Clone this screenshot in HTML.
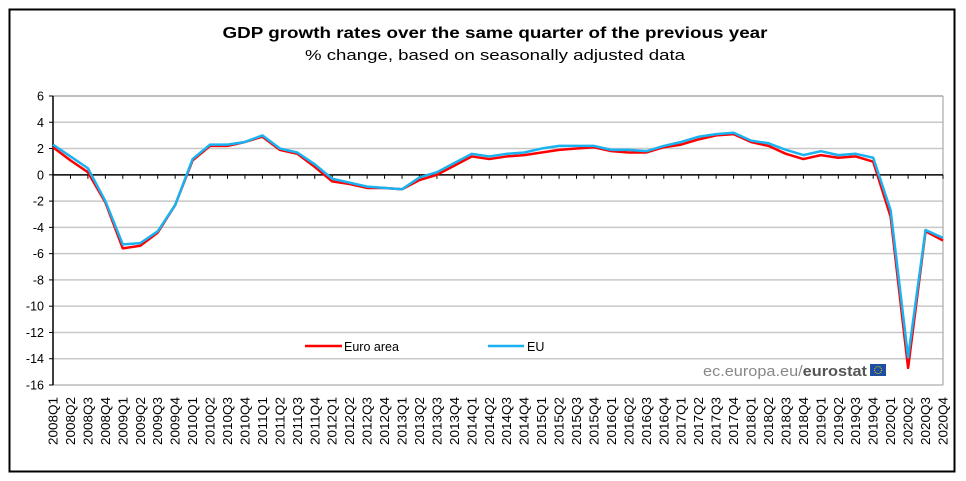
<!DOCTYPE html>
<html><head><meta charset="utf-8"><style>
html,body{margin:0;padding:0;background:#fff;}
svg{display:block;font-family:"Liberation Sans",Arial,sans-serif;}
</style></head><body>
<svg id="chart" width="966" height="481" viewBox="0 0 966 481">
<rect x="9.5" y="9.5" width="945" height="462" fill="#fff" stroke="#000" stroke-width="2"/>
<text x="495" y="38" text-anchor="middle" font-size="16" font-weight="bold" textLength="545" lengthAdjust="spacingAndGlyphs">GDP growth rates over the same quarter of the previous year</text>
<text x="495" y="60" text-anchor="middle" font-size="15" textLength="380" lengthAdjust="spacingAndGlyphs">% change, based on seasonally adjusted data</text>
<g id="grid"></g><g id="axes"></g><g id="series"></g>
<g>
<line x1="305" y1="346" x2="342" y2="346" stroke="#ff0000" stroke-width="2.5"/>
<text x="344" y="351" font-size="12.5">Euro area</text>
<line x1="488" y1="346" x2="524" y2="346" stroke="#1ab2f0" stroke-width="2.5"/>
<text x="527" y="351" font-size="12.5">EU</text>
</g>
<text x="867" y="376" text-anchor="end" font-size="15" fill="#888" textLength="164" lengthAdjust="spacingAndGlyphs">ec.europa.eu/<tspan font-weight="bold" fill="#555">eurostat</tspan></text>
<rect x="870" y="364" width="16" height="12" fill="#1d4ea0"/>
<circle cx="878" cy="370" r="3.5" fill="none" stroke="#e8d000" stroke-width="1" stroke-dasharray="1 1"/>
</svg>
<script>
const quarters=[];
for(let yr=2008;yr<=2020;yr++)for(let q=1;q<=4;q++)quarters.push(yr+"Q"+q);
const euroArea=[2.1,1.1,0.2,-2.1,-5.6,-5.4,-4.4,-2.3,1.1,2.2,2.2,2.5,2.9,1.9,1.6,0.6,-0.5,-0.7,-1.0,-1.0,-1.1,-0.4,0.0,0.7,1.4,1.2,1.4,1.5,1.7,1.9,2.0,2.1,1.8,1.7,1.7,2.1,2.3,2.7,3.0,3.1,2.5,2.2,1.6,1.2,1.5,1.3,1.4,1.0,-3.2,-14.7,-4.3,-5.0];
const eu=[2.3,1.4,0.5,-2.0,-5.3,-5.2,-4.3,-2.3,1.2,2.3,2.3,2.5,3.0,2.0,1.7,0.8,-0.3,-0.6,-0.9,-1.0,-1.1,-0.2,0.2,0.9,1.6,1.4,1.6,1.7,2.0,2.2,2.2,2.2,1.9,1.9,1.8,2.2,2.5,2.9,3.1,3.2,2.6,2.4,1.9,1.5,1.8,1.5,1.6,1.3,-2.7,-13.9,-4.2,-4.8];
const yTicks=[6,4,2,0,-2,-4,-6,-8,-10,-12,-14,-16];
const NS="http://www.w3.org/2000/svg";
const L=53,R=943,T=96,B=385,yMin=-16,yMax=6;
const sx=i=>L+i*(R-L)/(quarters.length-1);
const sy=v=>T+(yMax-v)*(B-T)/(yMax-yMin);
function mk(tag,attrs,parent){const e=document.createElementNS(NS,tag);for(const k in attrs)e.setAttribute(k,attrs[k]);parent.appendChild(e);return e;}
const grid=document.getElementById('grid'),axes=document.getElementById('axes'),ser=document.getElementById('series');
yTicks.forEach(t=>{
  if(t!==0&&t!==yMin){const g=mk('line',{x1:L,x2:R,y1:sy(t),y2:sy(t),stroke:'#c8c8c8','stroke-width':1.5},grid);
  
  }
  const tk=mk('line',{x1:L-4,x2:L,y1:sy(t),y2:sy(t),stroke:'#000'},axes);
  
  
  const lb=mk('text',{x:L-9,y:sy(t)+4.5,'text-anchor':'end','font-size':12.5},axes);
  lb.textContent=t;
  
  
});
const topBorder=mk('line',{x1:L,x2:R,y1:T,y2:T,stroke:'#999'},grid);


const rb=mk('line',{x1:R,x2:R,y1:T,y2:B,stroke:'#999'},grid);


const bb=mk('line',{x1:L,x2:R,y1:B,y2:B,stroke:'#999'},grid);


const ya=mk('line',{x1:L,x2:L,y1:T,y2:B,stroke:'#000','stroke-width':1.5},axes);


const xa=mk('line',{x1:L,x2:R,y1:sy(0),y2:sy(0),stroke:'#000','stroke-width':1.5},axes);


quarters.forEach((q,i)=>{
  const tk=mk('line',{x1:sx(i),x2:sx(i),y1:sy(0),y2:sy(0)+4,stroke:'#000'},axes);
  
  
  const lb=mk('text',{x:0,y:0,'text-anchor':'end','font-size':12.5,textLength:48,lengthAdjust:'spacingAndGlyphs',transform:`translate(${sx(i)+4.5},397) rotate(-90)`},axes);
  lb.textContent=q;
  
  
});
function drawLine(vals,color,name){
  const p=mk('polyline',{points:vals.map((v,i)=>sx(i)+','+sy(v)).join(' '),fill:'none',stroke:color,'stroke-width':2.5,'stroke-linejoin':'round'},ser);
  
  
}
drawLine(euroArea,'#ff0000','euro-area-line');
drawLine(eu,'#1ab2f0','eu-line');
</script>
</body></html>
